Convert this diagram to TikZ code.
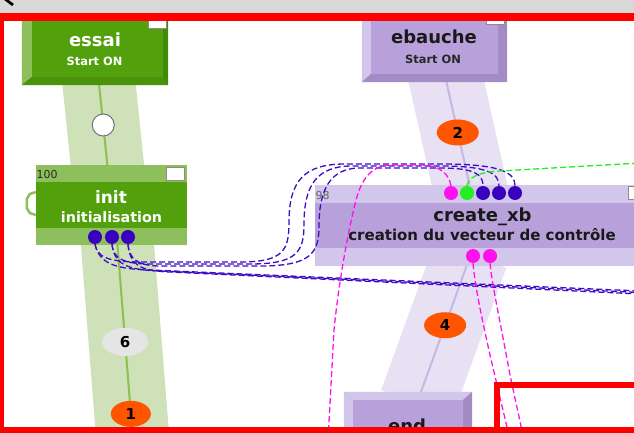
\documentclass[tikz,border=0pt]{standalone}
\usepackage{fontspec}
\setmainfont{DejaVu Sans}
\usepackage{xcolor}
\usepackage{tikz}
\usetikzlibrary{shapes.geometric, arrows, positioning, calc, backgrounds}

\definecolor{greenface}{HTML}{52A00C}
\definecolor{greenlight}{HTML}{8DBF5C}
\definecolor{greendark}{HTML}{3F8A06}
\definecolor{greenbevel}{HTML}{4A920A}
\definecolor{greenband}{HTML}{CEE1B9}
\definecolor{greenlink}{HTML}{8CC050}
\definecolor{lilacface}{HTML}{B8A1DB}
\definecolor{lilaclight}{HTML}{D2C6EA}
\definecolor{lilacdark}{HTML}{A38CC6}
\definecolor{lilacband}{HTML}{E7E1F3}
\definecolor{lilaclink}{HTML}{C6B7E6}
\definecolor{wireblue}{HTML}{3D0CC4}
\definecolor{portblue}{HTML}{3A00BF}
\definecolor{wirepink}{HTML}{FF11EE}
\definecolor{wiregreen}{HTML}{22EE22}
\definecolor{tallyorange}{HTML}{FF5500}
\definecolor{framered}{HTML}{FF0000}
\definecolor{barfill}{HTML}{D9D9D9}

\newcommand{\blocktitle}{\fontsize{18}{19}\selectfont\bfseries}
\newcommand{\blocksub}{\fontsize{15}{16}\selectfont\bfseries}
\newcommand{\blockstart}{\fontsize{11.4}{12}\selectfont\bfseries}
\newcommand{\blockid}{\fontsize{11}{12}\selectfont}
\newcommand{\tallyfont}{\fontsize{15}{16}\selectfont\bfseries}

\tikzstyle{block} = [rectangle, inner sep=0, draw=none]
\tikzstyle{lbl} = [inner sep=0, anchor=base]
\tikzstyle{flag} = [rectangle, draw=black!45, fill=white, line width=1, minimum width=18, minimum height=13, inner sep=0]
\tikzstyle{port} = [circle, minimum size=14, inner sep=0]
\tikzstyle{hub} = [circle, draw=black!55, fill=white, line width=1, minimum size=22, inner sep=0]
\tikzstyle{tally} = [ellipse, minimum width=42, minimum height=26, inner sep=0, fill=tallyorange, font=\tallyfont]
\tikzstyle{gband} = [greenband, line width=73]
\tikzstyle{pband} = [lilacband, shorten <=-12pt, shorten >=-12pt]
\tikzstyle{glink} = [greenlink, line width=2]
\tikzstyle{plink} = [lilaclink, line width=2]
\tikzstyle{wire} = [line width=1.3, dash pattern=on 6pt off 3pt]

\begin{document}
\begin{tikzpicture}[x=1pt, y=-1pt]
\useasboundingbox (0,0) rectangle (634,433);
\clip (0,0) rectangle (634,433);

\node (essai) [block, fill=greenface, minimum width=146, minimum height=80] at (95,45) {};
\node (init) [block, fill=greenface, minimum width=151, minimum height=80] at (111.5,205) {};
\node (ebauche) [block, fill=lilacface, minimum width=145, minimum height=77] at (434.5,43.5) {};
\node (createxb) [block, fill=lilacface, minimum width=345, minimum height=81] at (487.5,225.5) {};
\node (endblk) [block, fill=lilacface, minimum width=128, minimum height=68] at (408,426) {};

\coordinate (initout) at ($(init.south)+(6,0)$);
\coordinate (tail) at (134.5,460);
\coordinate (ebaucheout) at ($(ebauche.south)+(12,0)$);
\coordinate (createxbin) at ($(createxb.north)+(-18,0)$);
\coordinate (createxbout) at ($(createxb.south)+(-21,0)$);
\coordinate (endin) at ($(endblk.north)+(13,0)$);

\begin{pgfonlayer}{background}
\fill[white] (0,0) rectangle (634,433);
\draw[gband] (essai.center) -- (init.center);
\draw[glink] (essai.center) -- (init.center);
\draw[gband, shorten <=-8pt] (initout) -- (tail);
\draw[glink] (initout) -- (tail);
\draw[pband, line width=74] (ebaucheout) -- (createxbin);
\draw[plink] (ebaucheout) -- (createxbin);
\draw[pband, line width=76] (createxbout) -- (endin);
\draw[plink] (createxbout) -- (endin);
\end{pgfonlayer}

\fill[greenlight] (essai.north west) -- ++(10,0) -- ++(0,72) -- (essai.south west) -- cycle;
\fill[greenbevel] (essai.south west) -- ++(10,-8) -- ++(131,0) -- (essai.south east) -- cycle;
\fill[greendark] (essai.north east) -- (essai.south east) -- ++(-5,-8) -- ++(0,-72) -- cycle;

\fill[lilaclight] (ebauche.north west) -- ++(9,0) -- ++(0,69) -- (ebauche.south west) -- cycle;
\fill[lilacdark] (ebauche.south west) -- ++(9,-8) -- ++(127,0) -- (ebauche.south east) -- cycle;
\fill[lilacdark] (ebauche.north east) -- (ebauche.south east) -- ++(-9,-8) -- ++(0,-69) -- cycle;

\fill[lilaclight] (endblk.north west) -- (endblk.north east) -- ++(-9,8) -- ++(-110,0) -- cycle;
\fill[lilaclight] (endblk.north west) -- ++(9,8) -- ++(0,60) -- (endblk.south west) -- cycle;
\fill[lilacdark] (endblk.north east) -- ++(-9,8) -- ++(0,60) -- (endblk.south east) -- cycle;

\fill[greenlight] (init.north west) rectangle ++(151,17);
\fill[greenlight] (init.south west) rectangle ++(151,-17);
\draw[greenlight, line width=2.5] (init.west) ++(0,-13) -- ++(-6,2) -- ++(-3,5) -- ++(0,9) -- ++(3,5) -- ++(6,2);
\fill[lilaclight] (createxb.north west) rectangle ++(345,18);
\fill[lilaclight] (createxb.south west) rectangle ++(345,-18);

\node (essaiflag) [flag] at (157,22.5) {};
\node (ebaucheflag) [flag] at (495.5,18.5) {};
\node (initflag) [flag] at (175,173.5) {};
\node (createxbflag) [flag] at (637,193) {};

\node (essai-t) [lbl, text=white] at (95,47) {\blocktitle essai};
\node (essai-s) [lbl, text=white] at (94.5,66) {\blockstart Start ON};
\node (init-id) [inner sep=0, anchor=west, text=black!85] at (36.5,174.5) {\blockid 100};
\node (init-t) [lbl, text=white] at (111,203) {\fontsize{17}{18}\selectfont\bfseries init};
\node (init-s) [lbl, text=white] at (111.5,222) {\fontsize{14.3}{15}\selectfont\bfseries initialisation};
\node (ebauche-t) [lbl, text=black!90] at (434,44) {\blocktitle ebauche};
\node (ebauche-s) [lbl, text=black!85] at (433,63.5) {\blockstart Start ON};
\node (createxb-id) [inner sep=0, anchor=west, text=black!60] at (315.5,195) {\blockid 98};
\node (createxb-t) [lbl, text=black!90] at (482.5,221.5) {\blocktitle create\_xb};
\node (createxb-s) [lbl, text=black!90] at (482,240.5) {\blocksub creation du vecteur de contrôle};
\node (endblk-t) [lbl, text=black!90] at (407,432) {\blocktitle end};

\node (hub1) [hub] at ($(essai.center)!0.5!(init.center)$) {};
\node (tally6) [tally, fill=black!10, minimum width=46, minimum height=28] at ($(initout)!0.45!(tail)$) {6};
\node (tally1) [tally, minimum width=40] at ($(initout)!0.785!(tail)$) {1};
\node (tally2) [tally] at ($(ebaucheout)!0.49!(createxbin)$) {2};
\node (tally4) [tally] at ($(createxbout)!0.47!(endin)$) {4};

\node (ip1) [port, fill=portblue] at (95,237) {};
\node (ip2) [port, fill=portblue] at (112,237) {};
\node (ip3) [port, fill=portblue] at (128,237) {};
\node (xp1) [port, fill=wirepink] at (451,193) {};
\node (xp2) [port, fill=wiregreen] at (467,193) {};
\node (xp3) [port, fill=portblue] at (483,193) {};
\node (xp4) [port, fill=portblue] at (499,193) {};
\node (xp5) [port, fill=portblue] at (515,193) {};
\node (xo1) [port, fill=wirepink] at (473,256) {};
\node (xo2) [port, fill=wirepink] at (490,256) {};

\coordinate (east1) at (640,291);
\coordinate (east2) at (640,292.5);
\coordinate (east3) at (640,294);
\coordinate (greenfree) at (640,163);
\coordinate (pinkfree1) at (328,440);
\coordinate (pinkfree2) at (510,440);
\coordinate (pinkfree3) at (524,440);

\draw[wire, wireblue] (ip1.south) .. controls (97,256) and (106,262) .. (140,262) -- (240,262) .. controls (284,262) and (289,250) .. (289,222) .. controls (289,180) and (305,164) .. (345,164) -- (440,164) .. controls (500,164) and (515,172) .. (xp5.north);
\draw[wire, wireblue] (ip2.south) .. controls (113,257) and (121,264) .. (150,264) -- (250,264) .. controls (297,264) and (304,252) .. (304,224) .. controls (304,185) and (317,166) .. (352,166) -- (440,166) .. controls (487,166) and (499,173) .. (xp4.north);
\draw[wire, wireblue] (ip3.south) .. controls (129,258) and (137,266) .. (160,266) -- (260,266) .. controls (311,266) and (319,253) .. (319,226) .. controls (319,190) and (330,168) .. (360,168) -- (440,168) .. controls (474,168) and (483,174) .. (xp3.north);
\draw[wire, wireblue] (ip1.south) .. controls (99,262) and (112,269) .. (150,270) -- (east1);
\draw[wire, wireblue] (ip2.south) .. controls (114,263) and (125,270) .. (160,271) -- (east2);
\draw[wire, wireblue] (ip3.south) .. controls (130,264) and (138,271) .. (170,272) -- (east3);

\draw[wire, wirepink] (xp1.north) .. controls (449,174) and (440,165) .. (420,165) -- (392,165) .. controls (372,165) and (362,178) .. (356,200) .. controls (346,240) and (338,290) .. (334,330) -- (pinkfree1);
\draw[wire, wiregreen] (xp2.north) .. controls (468,178) and (478,172) .. (500,171) -- (greenfree);
\draw[wire, wirepink] (xo1.south) .. controls (475,285) and (480,310) .. (490,355) -- (pinkfree2);
\draw[wire, wirepink] (xo2.south) .. controls (492,285) and (500,320) .. (510,375) -- (pinkfree3);

\fill[barfill] (0,0) rectangle (634,13);
\draw[black, line width=2.7] (5,-1) -- (13,5);
\draw[framered, line width=7.5] (0.5,17) rectangle (700,431);
\draw[framered, line width=6] (497,385) rectangle (700,500);
\end{tikzpicture}
\end{document}
